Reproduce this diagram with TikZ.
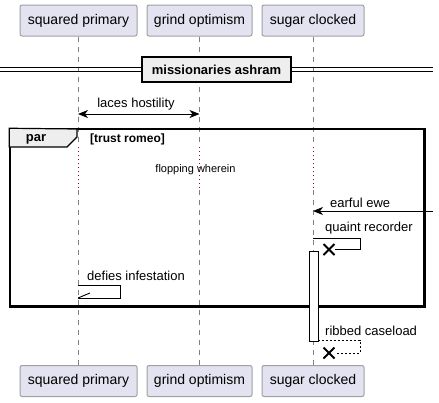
\documentclass[tikz,border=0pt]{standalone}
\usepackage{fontspec}
\setmainfont{Liberation Sans}
\usetikzlibrary{arrows.meta,calc}
\definecolor{partfill}{HTML}{E2E2F0}
\definecolor{partdraw}{HTML}{A0A0A0}
\definecolor{grpfill}{HTML}{EEEEEE}
\definecolor{delayred}{HTML}{A80036}
\tikzset{
  part/.style={draw=partdraw, fill=partfill, line width=1pt, rounded corners=2pt, minimum height=31pt, inner sep=0pt, font=\fontsize{14}{16}\selectfont},
  lifeline/.style={draw=partdraw!80!black, dash pattern=on 5pt off 5pt, line width=0.6pt},
  delayline/.style={draw=delayred, dash pattern=on 1pt off 3pt, line width=0.8pt},
  msg/.style={draw=black, line width=0.9pt},
  tip/.style={-{Stealth[length=10pt,width=8pt,inset=3pt]}},
  msgtxt/.style={font=\fontsize{13}{15}\selectfont, inner sep=0pt},
  smalltxt/.style={font=\fontsize{11}{13}\selectfont, inner sep=0pt},
  boldtxt/.style={font=\bfseries\fontsize{13}{15}\selectfont, inner sep=0pt},
  xmark/.style={draw=black, line width=2pt},
  actbar/.style={draw=black, fill=white, line width=0.9pt}
}
\begin{document}
\begin{tikzpicture}[x=1pt,y=-1pt]
\useasboundingbox (0,0) rectangle (439,402);
% participants
\node[part, minimum width=117pt] (sp) at (78.5,20.5) {squared primary};
\node[part, minimum width=105pt] (go) at (199.5,20.5) {grind optimism};
\node[part, minimum width=102pt] (sc) at (313,20.5) {sugar clocked};
\node[part, minimum width=117pt] (spb) at (78.5,381) {squared primary};
\node[part, minimum width=105pt] (gob) at (199.5,381) {grind optimism};
\node[part, minimum width=102pt] (scb) at (313,381) {sugar clocked};
% lifeline coordinates
\coordinate (spd1) at (78,147); \coordinate (spd2) at (78,190);
\coordinate (god1) at (199.5,147); \coordinate (god2) at (199.5,190);
\coordinate (scd1) at (313,147); \coordinate (scd2) at (313,190);
\draw[lifeline] (sp.south -| spd1) -- (spd1);
\draw[lifeline] (spd2) -- (spb.north -| spd2);
\draw[lifeline] (go.south) -- (god1);
\draw[lifeline] (god2) -- (gob.north);
\draw[lifeline] (sc.south) -- (scd1);
\draw[lifeline] (scd2) -- (scb.north);
\draw[delayline] (spd1) -- (spd2);
\draw[delayline] (god1) -- (god2);
\draw[delayline] (scd1) -- (scd2);
% divider
\coordinate (dl) at (0,69.5); \coordinate (dr) at (433,69.5);
\draw[line width=0.9pt] ([yshift=-2pt]dl) -- ([yshift=-2pt]dr);
\draw[line width=0.9pt] ([yshift=2pt]dl) -- ([yshift=2pt]dr);
\node[draw=black, line width=1.5pt, fill=grpfill, minimum width=149pt, minimum height=25pt, inner sep=0pt, font=\bfseries\fontsize{13}{15}\selectfont] (div) at (216.5,69.5) {missionaries ashram};
% laces hostility
\coordinate (lh1) at (78,114); \coordinate (lh2) at (199.5,114);
\draw[msg, {Stealth[length=10pt,width=8pt,inset=3pt]}-{Stealth[length=10pt,width=8pt,inset=3pt]}] (lh1) -- (lh2);
\node[msgtxt] (lht) at (136,104) {laces hostility};
% par frame
\node[draw=black, line width=1.5pt, minimum width=414pt, minimum height=177pt, inner sep=0pt] (frame) at (217,217.5) {};
\coordinate (tabr) at (77,129);
\filldraw[draw=black, line width=1.2pt, fill=grpfill] (frame.north west) -- (tabr) -- (77,137) -- (67,147) -- (frame.north west |- 0,147) -- cycle;
\draw[line width=1.5pt] (frame.north west) rectangle (frame.south east);
\node[boldtxt] (part) at (36,139) {par};
\node[font=\bfseries\fontsize{12}{14}\selectfont, inner sep=0pt, anchor=west] (guard) at (90,139) {[trust romeo]};
\node[smalltxt] (flop) at (195.5,170) {flopping wherein};
% activation bar
\node[actbar, minimum width=9pt, minimum height=90pt, inner sep=0pt] (act) at (313.5,296) {};
% earful ewe
\coordinate (ee1) at (433,211); \coordinate (ee2) at (313,211);
\draw[msg, tip] (ee1) -- (ee2);
\node[msgtxt, anchor=west] (eet) at (330,203) {earful ewe};
% quaint recorder
\coordinate (qr1) at (313,238); \coordinate (qrx) at (329,249.5);
\draw[msg] (qr1) -- (360,238) -- (360,249.5) -- ([xshift=6pt]qrx);
\draw[xmark] ([shift={(-5.5pt,-5.5pt)}]qrx) -- ([shift={(5.5pt,5.5pt)}]qrx);
\draw[xmark] ([shift={(-5.5pt,5.5pt)}]qrx) -- ([shift={(5.5pt,-5.5pt)}]qrx);
\node[msgtxt, anchor=west] (qrt) at (325,228) {quaint recorder};
% defies infestation
\coordinate (di1) at (78,285); \coordinate (di2) at (78,298);
\draw[msg] (di1) -- (120,285) -- (120,298) -- (di2);
\draw[msg] (di2) -- (90,293);
\node[msgtxt, anchor=west] (dit) at (87,276) {defies infestation};
% ribbed caseload
\coordinate (rcx) at (329,353);
\draw[msg, dash pattern=on 2pt off 2pt] (act.east |- 0,340) -- (360,340) -- (360,353) -- ([xshift=6pt]rcx);
\draw[xmark] ([shift={(-5.5pt,-5.5pt)}]rcx) -- ([shift={(5.5pt,5.5pt)}]rcx);
\draw[xmark] ([shift={(-5.5pt,5.5pt)}]rcx) -- ([shift={(5.5pt,-5.5pt)}]rcx);
\node[msgtxt, anchor=west] (rct) at (325,331) {ribbed caseload};
\end{tikzpicture}
\end{document}
